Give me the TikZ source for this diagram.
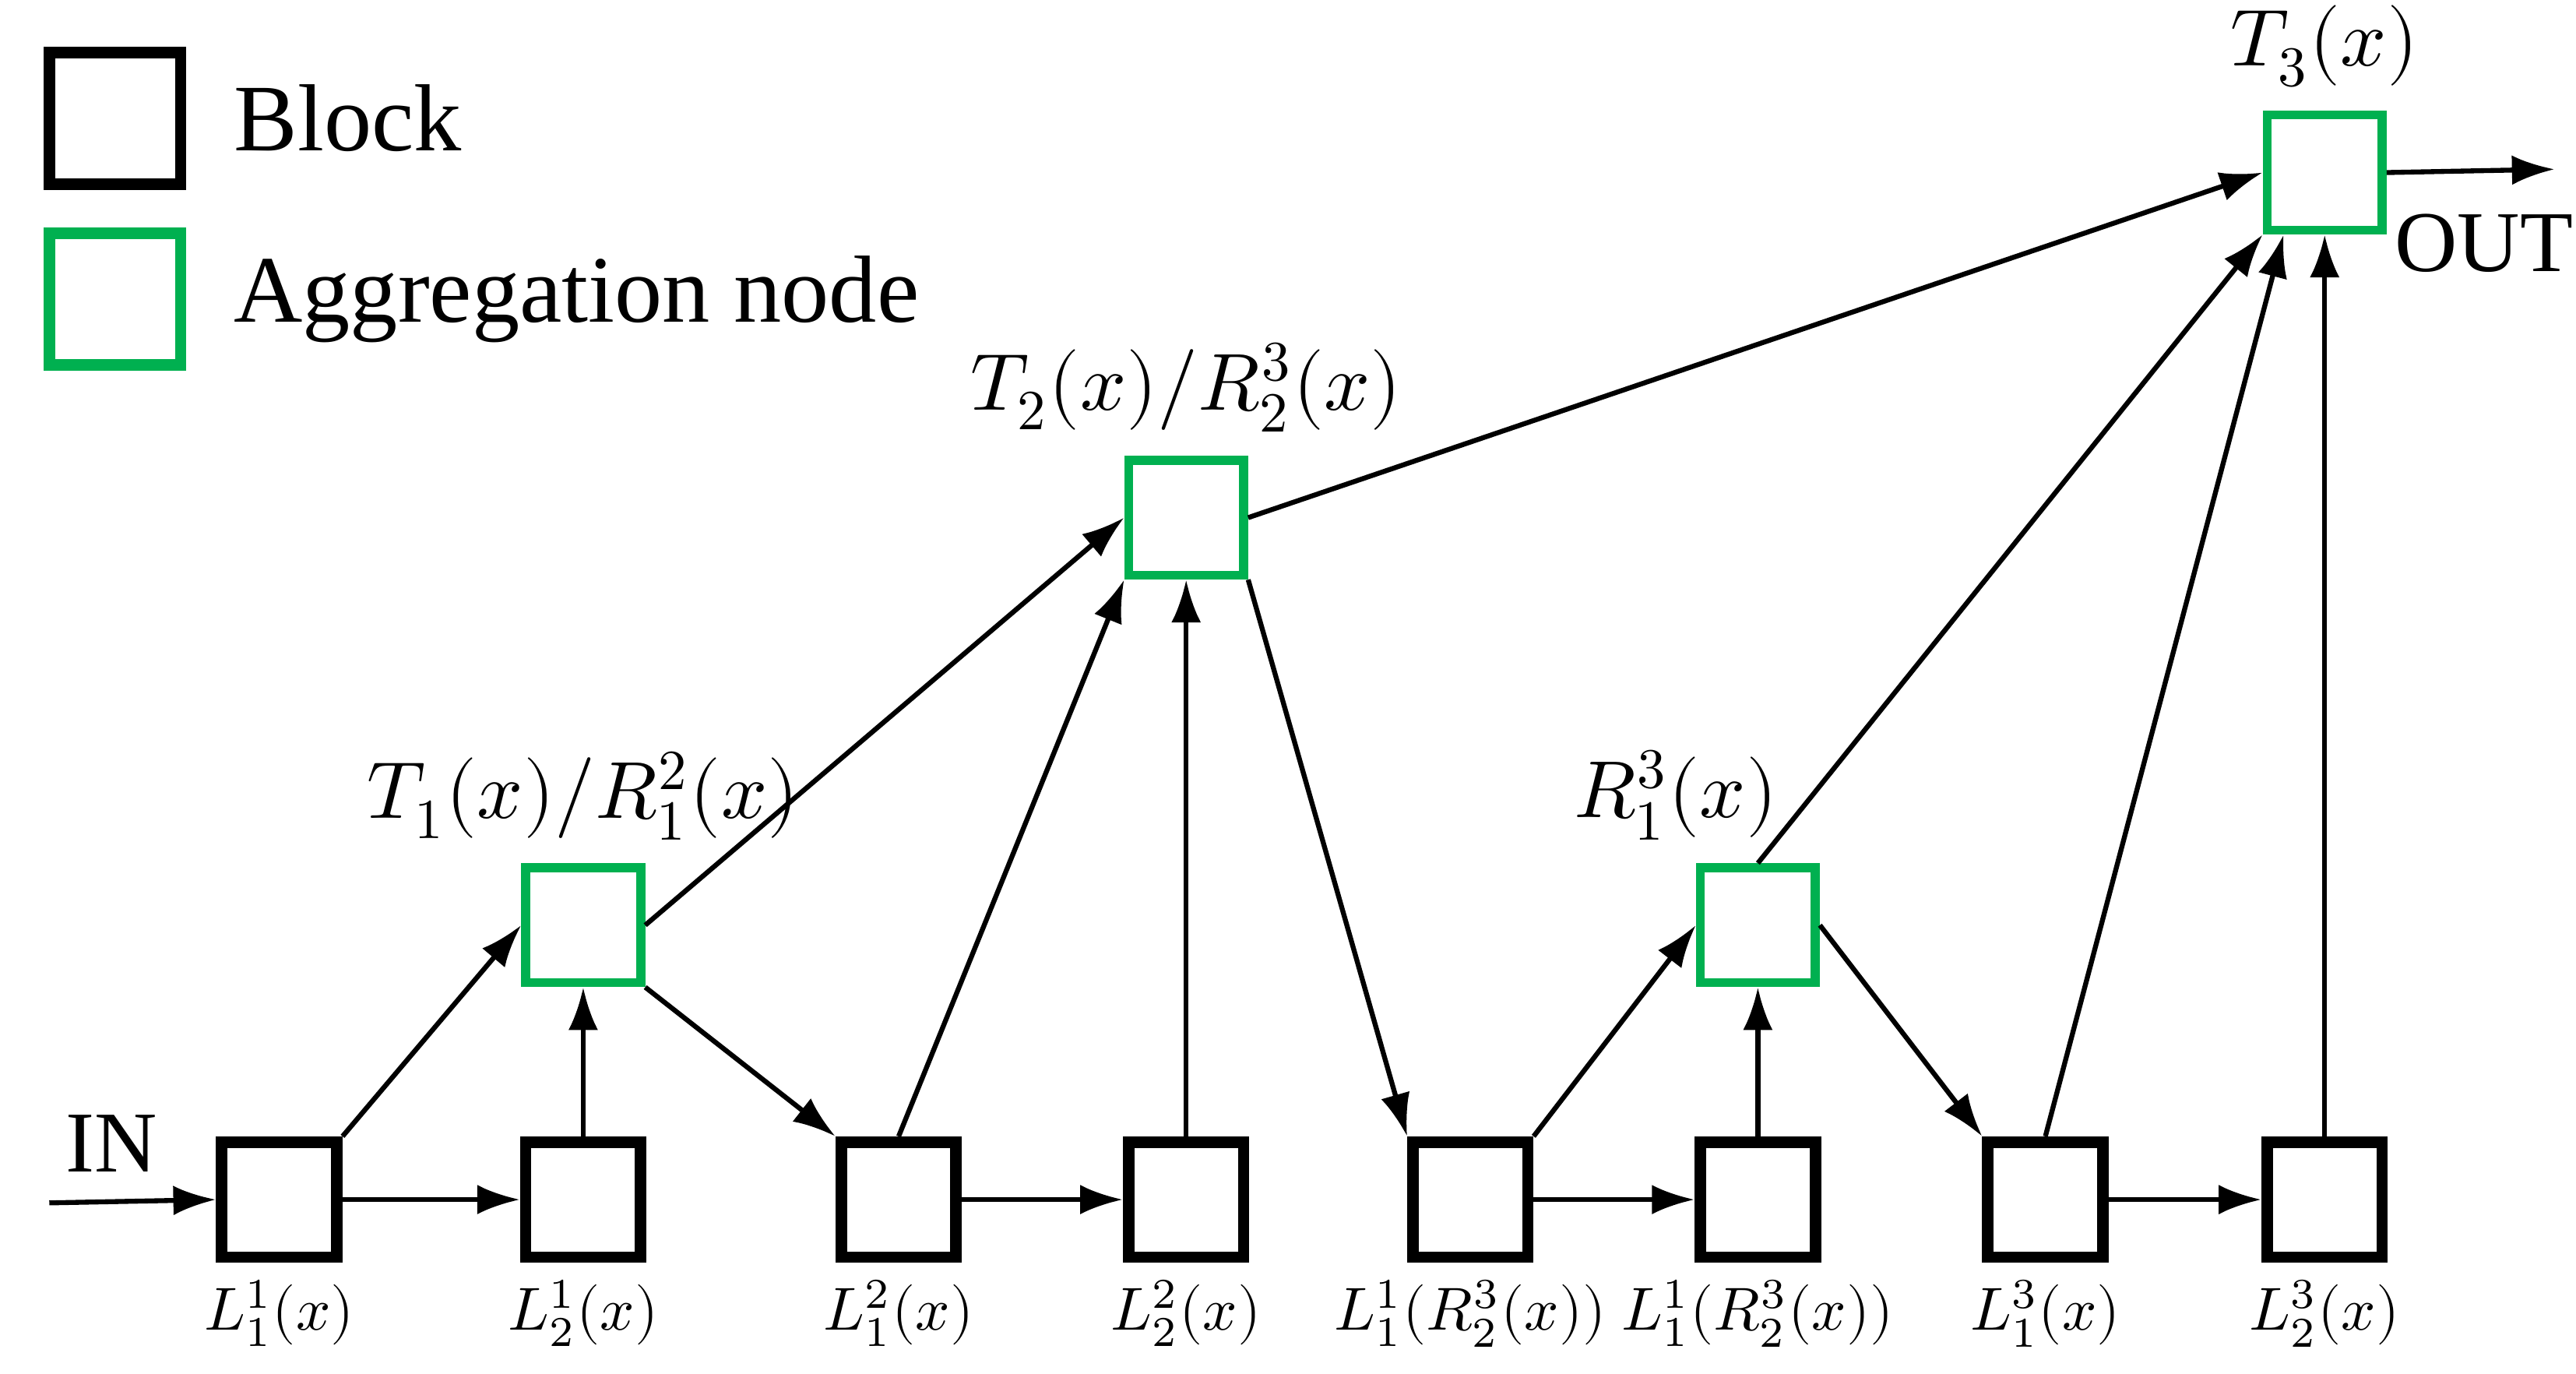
\documentclass[tikz,border=0pt]{standalone}
\usepackage{fontspec}
\setmainfont{Liberation Serif}
\usepackage{unicode-math}
\usetikzlibrary{arrows.meta}
\definecolor{aggr}{RGB}{0,176,80}
\tikzset{
  blk/.style={draw=black, line width=0.7mm, minimum size=0.7cm, inner sep=0pt},
  agg/.style={draw=aggr, line width=0.55mm, minimum size=0.7cm, inner sep=0pt},
  lbl/.style={font=\fontsize{14}{16}\selectfont, inner sep=1pt},
  blbl/.style={font=\fontsize{10.5}{12}\selectfont, inner sep=0.5pt},
  con/.style={-{Latex[length=2.6mm,width=1.8mm]}, line width=0.3mm}
}
\begin{document}
\begin{tikzpicture}
  \useasboundingbox (0,0) rectangle (15.68,8.36);
  % legend
  \node[blk, minimum size=0.8cm] (kb) at (0.70,7.64) {};
  \node[agg, minimum size=0.8cm, line width=0.7mm] (ka) at (0.70,6.54) {};
  \node[anchor=west, font=\fontsize{16.5}{18}\selectfont] (tb) at (1.30,7.64) {Block};
  \node[anchor=west, font=\fontsize{16.5}{18}\selectfont] (ta) at (1.30,6.54) {Aggregation node};
  % blocks
  \node[blk] (a) at (1.70,1.06) {};
  \node[blk] (b) at (3.55,1.06) {};
  \node[blk] (c) at (5.47,1.06) {};
  \node[blk] (d) at (7.22,1.06) {};
  \node[blk] (e) at (8.95,1.06) {};
  \node[blk] (f) at (10.70,1.06) {};
  \node[blk] (g) at (12.45,1.06) {};
  \node[blk] (h) at (14.15,1.06) {};
  \foreach \n/\t in {a/{L_1^1(x)}, b/{L_2^1(x)}, c/{L_1^2(x)}, d/{L_2^2(x)},
    e/{L_1^1(R_2^3(x))}, f/{L_1^1(R_2^3(x))}, g/{L_1^3(x)}, h/{L_2^3(x)}}
    \node[blbl, anchor=north] (l\n) at ([yshift=-0.8mm]\n.south) {$\t$};
  % aggregation nodes
  \node[agg] (t1) at (3.55,2.73) {};
  \node[agg] (r1) at (10.70,2.73) {};
  \node[agg] (t2) at (7.22,5.21) {};
  \node[agg] (t3) at (14.15,7.31) {};
  \node[lbl, anchor=south] (lt1) at ([yshift=1mm]t1.north) {$T_1(x)/R_1^2(x)$};
  \node[lbl, anchor=south] (lr1) at ([xshift=-5mm,yshift=1mm]r1.north) {$R_1^3(x)$};
  \node[lbl, anchor=south] (lt2) at ([yshift=1mm]t2.north) {$T_2(x)/R_2^3(x)$};
  \node[lbl, anchor=south] (lt3) at ([yshift=1mm]t3.north) {$T_3(x)$};
  % in / out
  \coordinate (in) at (0.30,1.04);
  \coordinate (out) at (15.55,7.33);
  \node[font=\fontsize{15}{17}\selectfont] (tin) at (0.68,1.40) {IN};
  \node[font=\fontsize{15}{17}\selectfont] (tout) at (15.12,6.88) {OUT};
  \draw[con] (in) -- (a.west);
  \draw[con] (t3.east) -- (out);
  % connectors
  \draw[con] (a) -- (b);
  \draw[con] (c) -- (d);
  \draw[con] (e) -- (f);
  \draw[con] (g) -- (h);
  \draw[con] (a.north east) -- (t1.west);
  \draw[con] (b.north) -- (t1.south);
  \draw[con] (t1.south east) -- (c.north west);
  \draw[con] (t1.east) -- (t2.west);
  \draw[con] (c.north) -- (t2.south west);
  \draw[con] (d.north) -- (t2.south);
  \draw[con] (t2.south east) -- (e.north west);
  \draw[con] (e.north east) -- (r1.west);
  \draw[con] (f.north) -- (r1.south);
  \draw[con] (r1.east) -- (g.north west);
  \draw[con] (t2.east) -- (t3.west);
  \draw[con] (r1.north) -- (t3.south west);
  \draw[con] (g.north) -- ([xshift=-2.5mm]t3.south);
  \draw[con] (h.north) -- (t3.south);
\end{tikzpicture}
\end{document}
